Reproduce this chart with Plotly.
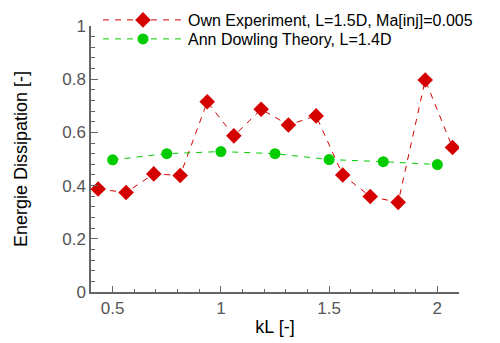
import plotly.graph_objects as go

# Measured energy dissipation, own experiment (L = 1.5D, Ma[inj] = 0.005)
kl_exp = [0.433, 0.562, 0.690, 0.812, 0.937, 1.060, 1.186, 1.312, 1.440, 1.563, 1.690, 1.819, 1.944, 2.070]
diss_exp = [0.387, 0.374, 0.444, 0.438, 0.715, 0.587, 0.687, 0.628, 0.662, 0.440, 0.359, 0.337, 0.797, 0.543]

# Ann Dowling theory (L = 1.4D)
kl_theory = [0.50, 0.75, 1.00, 1.25, 1.50, 1.75, 2.00]
diss_theory = [0.497, 0.520, 0.528, 0.520, 0.498, 0.490, 0.479]

name_exp = "Own Experiment, L=1.5D, Ma[inj]=0.005"
name_theory = "Ann Dowling Theory, L=1.4D"
y_title = "Energie Dissipation [-]"

RED = "#d40000"
GREEN = "#00cc00"
FONT = "Liberation Sans, Arial, sans-serif"

fig = go.Figure()
fig.add_trace(go.Scatter(
    x=kl_exp, y=diss_exp, name=name_exp, mode="lines+markers",
    line=dict(color=RED, width=1, dash="6px,6px"),
    marker=dict(symbol="diamond", size=12, color=RED),
    legend="legend",
))
fig.add_trace(go.Scatter(
    x=kl_theory, y=diss_theory, name=name_theory, mode="lines+markers",
    line=dict(color=GREEN, width=1, dash="6px,6px"),
    marker=dict(symbol="circle", size=11, color=GREEN),
    legend="legend2",
))

axis_common = dict(
    showgrid=False, zeroline=False, showline=True,
    linecolor="#666666", linewidth=1.5,
    ticks="inside", tickcolor="#666666", tickwidth=1,
    tickfont=dict(family=FONT, size=17, color="#555555"),
    title_font=dict(family=FONT, size=18, color="#000000"),
    mirror=False,
)

legend_common = dict(
    xref="container", yref="container",
    xanchor="left", yanchor="middle",
    bgcolor="rgba(0,0,0,0)", borderwidth=0,
    font=dict(family=FONT, size=16, color="#000000"),
    itemwidth=80,
)

fig.update_layout(
    width=500, height=343,
    margin=dict(l=91, r=41, t=26, b=51, autoexpand=False),
    paper_bgcolor="white", plot_bgcolor="white",
    font=dict(family=FONT, color="#000000"),
    showlegend=True,
    legend=dict(x=0.196, y=1 - 20 / 343, **legend_common),
    legend2=dict(x=0.196, y=1 - 39 / 343, **legend_common),
    xaxis=dict(
        range=[0.4, 2.1], tickvals=[0.5, 1, 1.5, 2], ticktext=["0.5", "1", "1.5", "2"],
        ticklen=6,
        minor=dict(dtick=0.1, tick0=0.4, ticks="inside", ticklen=3, tickcolor="#666666"),
        title=dict(text="kL [-]", standoff=3),
        **axis_common,
    ),
    yaxis=dict(
        range=[0, 1], tickvals=[0, 0.2, 0.4, 0.6, 0.8, 1], ticktext=["0", "0.2", "0.4", "0.6", "0.8", "1"],
        ticklen=7,
        minor=dict(dtick=0.04, tick0=0, ticks="inside", ticklen=4, tickcolor="#666666"),
        **axis_common,
    ),
    annotations=[dict(
        text=y_title, textangle=-90, showarrow=False,
        xref="paper", yref="paper", x=-0.19, y=0.5,
        xanchor="center", yanchor="middle",
        font=dict(family=FONT, size=18, color="#000000"),
    )],
)

fig.write_html("out.html")
